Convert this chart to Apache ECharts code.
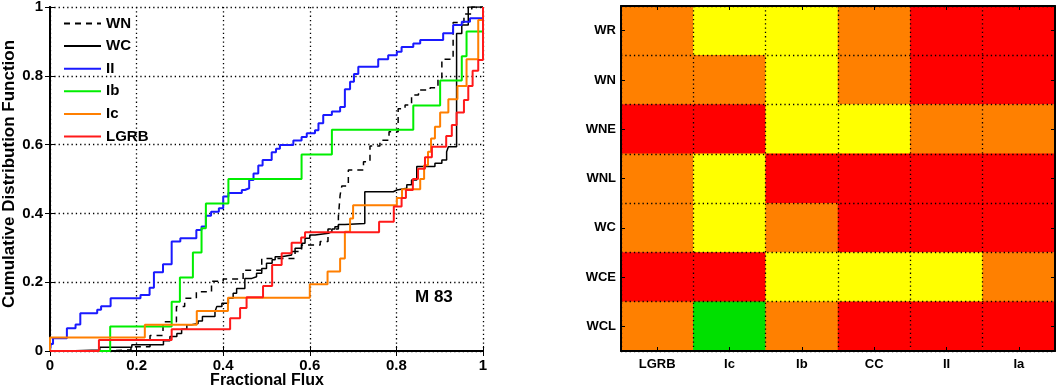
<!DOCTYPE html>
<html>
<head>
<meta charset="utf-8">
<title></title>
<script src="https://cdn.jsdelivr.net/npm/echarts@6/dist/echarts.min.js"></script>
<style>
    html, body { margin: 0; padding: 0; background: #fff; }
    #main { width: 1056px; height: 389px; }
</style>
</head>
<body>
<div id="main"></div>
<script type="text/javascript">
// cumulative distributions, [fractional flux, CDF]
var wn = [[0,0],[0.115,0.003],[0.187,0.012],[0.231,0.045],[0.261,0.085],[0.292,0.129],[0.311,0.153],[0.338,0.172],[0.373,0.203],[0.400,0.209],[0.446,0.235],[0.489,0.269],[0.566,0.289],[0.581,0.308],[0.624,0.318],[0.642,0.355],[0.666,0.390],[0.670,0.453],[0.674,0.480],[0.689,0.526],[0.724,0.550],[0.739,0.596],[0.762,0.613],[0.783,0.637],[0.804,0.704],[0.820,0.715],[0.835,0.744],[0.851,0.759],[0.878,0.765],[0.896,0.791],[0.905,0.848],[0.931,0.955],[0.956,0.980],[0.974,1.000],[1,1]];
var wc = [[0,0],[0.039,0.003],[0.115,0.011],[0.189,0.018],[0.262,0.030],[0.277,0.042],[0.293,0.051],[0.304,0.063],[0.316,0.076],[0.327,0.080],[0.342,0.087],[0.352,0.100],[0.381,0.114],[0.385,0.129],[0.397,0.139],[0.412,0.153],[0.423,0.168],[0.431,0.182],[0.450,0.211],[0.466,0.216],[0.477,0.226],[0.489,0.240],[0.500,0.255],[0.513,0.265],[0.520,0.274],[0.535,0.279],[0.558,0.289],[0.566,0.299],[0.581,0.313],[0.589,0.328],[0.600,0.337],[0.612,0.342],[0.643,0.347],[0.651,0.355],[0.658,0.361],[0.666,0.368],[0.681,0.371],[0.727,0.463],[0.793,0.468],[0.801,0.473],[0.824,0.483],[0.835,0.497],[0.847,0.536],[0.889,0.546],[0.905,0.555],[0.916,0.579],[0.920,0.594],[0.939,0.923],[0.951,0.948],[0.966,1.000],[1,1]];
var typeII = [[0,0],[0.002,0.020],[0.007,0.037],[0.039,0.066],[0.059,0.077],[0.070,0.110],[0.109,0.120],[0.118,0.130],[0.140,0.153],[0.209,0.163],[0.230,0.184],[0.240,0.229],[0.261,0.252],[0.281,0.318],[0.301,0.328],[0.338,0.352],[0.350,0.362],[0.360,0.393],[0.372,0.405],[0.390,0.415],[0.400,0.449],[0.412,0.459],[0.443,0.468],[0.450,0.473],[0.460,0.497],[0.470,0.516],[0.481,0.539],[0.491,0.555],[0.512,0.578],[0.522,0.588],[0.531,0.599],[0.562,0.612],[0.581,0.622],[0.593,0.633],[0.612,0.642],[0.620,0.662],[0.631,0.686],[0.651,0.696],[0.670,0.709],[0.681,0.761],[0.693,0.783],[0.702,0.805],[0.712,0.826],[0.758,0.848],[0.781,0.860],[0.801,0.870],[0.812,0.884],[0.839,0.894],[0.855,0.904],[0.908,0.924],[0.931,0.948],[0.951,0.957],[0.970,0.967],[1,0.967]];
var typeIb = [[0,0],[0.139,0.071],[0.281,0.143],[0.300,0.214],[0.330,0.286],[0.350,0.357],[0.360,0.429],[0.412,0.500],[0.581,0.571],[0.651,0.643],[0.839,0.714],[0.901,0.786],[0.951,0.857],[0.962,0.929],[1,1]];
var typeIc = [[0,0],[0,0.039],[0.219,0.076],[0.339,0.116],[0.411,0.155],[0.600,0.194],[0.641,0.231],[0.670,0.269],[0.681,0.347],[0.693,0.385],[0.700,0.424],[0.801,0.445],[0.813,0.470],[0.855,0.500],[0.864,0.540],[0.873,0.579],[0.880,0.618],[0.889,0.652],[0.901,0.693],[0.920,0.732],[0.941,0.770],[0.962,0.848],[0.989,0.962],[1,1]];
var lgrb = [[0,0],[0.113,0.032],[0.281,0.063],[0.416,0.095],[0.439,0.125],[0.454,0.156],[0.492,0.189],[0.513,0.250],[0.535,0.284],[0.558,0.315],[0.580,0.330],[0.589,0.345],[0.760,0.376],[0.794,0.420],[0.812,0.445],[0.822,0.468],[0.838,0.500],[0.850,0.530],[0.866,0.563],[0.882,0.594],[0.915,0.625],[0.928,0.657],[0.939,0.693],[0.956,0.730],[0.966,0.770],[0.976,0.815],[0.989,0.846],[1,1]];

// heatmap
var heatCols = ['LGRB', 'Ic', 'Ib', 'CC', 'II', 'Ia'];
var heatRows = ['WR', 'WN', 'WNE', 'WNL', 'WC', 'WCE', 'WCL'];
// 0 = green, 1 = yellow, 2 = orange, 3 = red
var heatLevels = [
    [2, 1, 1, 2, 3, 3],
    [2, 2, 1, 2, 3, 3],
    [3, 3, 1, 1, 2, 2],
    [2, 1, 3, 3, 3, 3],
    [2, 1, 2, 3, 3, 3],
    [3, 3, 1, 1, 1, 2],
    [2, 0, 2, 3, 3, 3]
];

var FONT = '"Liberation Sans", Arial, Helvetica, sans-serif';

var heatData = [];
heatLevels.forEach(function (row, r) {
    row.forEach(function (v, c) {
        heatData.push([c, r, v]);
    });
});

function lineSeries(name, data, color, dashed, width) {
    return {
        name: name,
        type: 'line',
        step: 'end',
        data: data,
        xAxisIndex: 0,
        yAxisIndex: 0,
        symbol: 'none',
        animation: false,
        lineStyle: { color: color, width: width, type: dashed ? [6, 5] : 'solid' },
        itemStyle: { color: color }
    };
}

function dotted() {
    return { show: true, lineStyle: { color: '#000', type: [1.3, 3], width: 1.3, opacity: 1 } };
}
var frame = { show: true, lineStyle: { color: '#000', width: 2 } };
var inTick = { show: true, inside: true, length: 5, lineStyle: { color: '#000', width: 1 } };
var catTick = { show: true, inside: true, alignWithLabel: true, length: 4, lineStyle: { color: '#000', width: 1 } };
var tickFont = { color: '#000', fontFamily: FONT, fontWeight: 'bold', fontSize: 15 };
var hidden = { show: false };

var chart = echarts.init(document.getElementById('main'));
var option = {
    backgroundColor: '#fff',
    animation: false,
    textStyle: { fontFamily: FONT },
    grid: [
        { left: 50, top: 7, width: 433, height: 344, outerBoundsMode: 'none', containLabel: false },
        { left: 621, top: 6, width: 434, height: 345, outerBoundsMode: 'none', containLabel: false },
        // overlay only for the dotted cell borders
        { left: 621, top: 6, width: 434, height: 345, outerBoundsMode: 'none', containLabel: false, z: 10, zlevel: 1 }
    ],
    legend: {
        orient: 'vertical',
        left: 63,
        top: 16,
        padding: 0,
        itemWidth: 37,
        itemHeight: 14,
        itemGap: 7.6,
        itemStyle: { opacity: 0 },
        data: ['WN', 'WC', 'II', 'Ib', 'Ic', 'LGRB'],
        textStyle: { color: '#000', fontFamily: FONT, fontWeight: 'bold', fontSize: 15 }
    },
    graphic: [
        {
            type: 'text', x: 415, y: 289,
            style: { text: 'M 83', fill: '#000', font: 'bold 17px ' + FONT }
        },
        {
            type: 'text', x: 267, y: 381,
            style: { text: 'Fractional Flux', fill: '#000', font: 'bold 16px ' + FONT, align: 'center', verticalAlign: 'middle' }
        },
        {
            type: 'text', x: 9, y: 174, rotation: Math.PI / 2,
            style: { text: 'Cumulative Distribution Function', fill: '#000', font: 'bold 17px ' + FONT, align: 'center', verticalAlign: 'middle' }
        }
    ],
    visualMap: {
        show: false,
        type: 'piecewise',
        seriesIndex: 6,
        dimension: 2,
        pieces: [
            { value: 0, color: '#00e000' },
            { value: 1, color: '#ffff00' },
            { value: 2, color: '#ff8000' },
            { value: 3, color: '#ff0000' }
        ]
    },
    xAxis: [
        {
            type: 'value', gridIndex: 0, min: 0, max: 1, interval: 0.2,
            axisLine: frame, axisTick: inTick, splitLine: dotted(),
            axisLabel: Object.assign({ margin: 7 }, tickFont)
        },
        {
            type: 'value', gridIndex: 0, position: 'top', min: 0, max: 1, interval: 0.2,
            axisLine: frame, axisTick: inTick, splitLine: hidden, axisLabel: hidden
        },
        {
            type: 'category', gridIndex: 1, data: heatCols, z: 10, zlevel: 1,
            axisLine: frame, axisTick: catTick, splitLine: hidden,
            axisLabel: { color: '#000', fontFamily: FONT, fontWeight: 'bold', fontSize: 13, margin: 7 }
        },
        {
            type: 'category', gridIndex: 1, data: heatCols, position: 'top', z: 10, zlevel: 1,
            axisLine: frame, axisTick: catTick, splitLine: hidden, axisLabel: hidden
        },
        {
            type: 'value', gridIndex: 2, min: 0, max: heatCols.length, interval: 1, z: 10, zlevel: 1,
            axisLine: hidden, axisTick: hidden, axisLabel: hidden, splitLine: dotted()
        }
    ],
    yAxis: [
        {
            type: 'value', gridIndex: 0, min: 0, max: 1, interval: 0.2,
            axisLine: frame, axisTick: inTick, splitLine: dotted(),
            axisLabel: Object.assign({ margin: 7 }, tickFont)
        },
        {
            type: 'value', gridIndex: 0, position: 'right', min: 0, max: 1, interval: 0.2,
            axisLine: frame, axisTick: inTick, splitLine: hidden, axisLabel: hidden
        },
        {
            type: 'category', gridIndex: 1, data: heatRows, inverse: true, z: 10, zlevel: 1,
            axisLine: frame, axisTick: catTick, splitLine: hidden,
            axisLabel: { color: '#000', fontFamily: FONT, fontWeight: 'bold', fontSize: 13, margin: 5 }
        },
        {
            type: 'category', gridIndex: 1, data: heatRows, inverse: true, position: 'right', z: 10, zlevel: 1,
            axisLine: frame, axisTick: catTick, splitLine: hidden, axisLabel: hidden
        },
        {
            type: 'value', gridIndex: 2, min: 0, max: heatRows.length, interval: 1, z: 10, zlevel: 1,
            axisLine: hidden, axisTick: hidden, axisLabel: hidden, splitLine: dotted()
        }
    ],
    series: [
        lineSeries('WN', wn, '#000000', true, 1.5),
        lineSeries('WC', wc, '#000000', false, 1.5),
        lineSeries('II', typeII, '#1a1aff', false, 2),
        lineSeries('Ib', typeIb, '#00ee00', false, 2),
        lineSeries('Ic', typeIc, '#ff7f00', false, 2),
        lineSeries('LGRB', lgrb, '#ff1a1a', false, 2),
        {
            type: 'heatmap',
            xAxisIndex: 2,
            yAxisIndex: 2,
            z: 1,
            data: heatData,
            itemStyle: { borderWidth: 0 },
            emphasis: { disabled: true }
        }
    ]
};
chart.setOption(option);
</script>
</body>
</html>
